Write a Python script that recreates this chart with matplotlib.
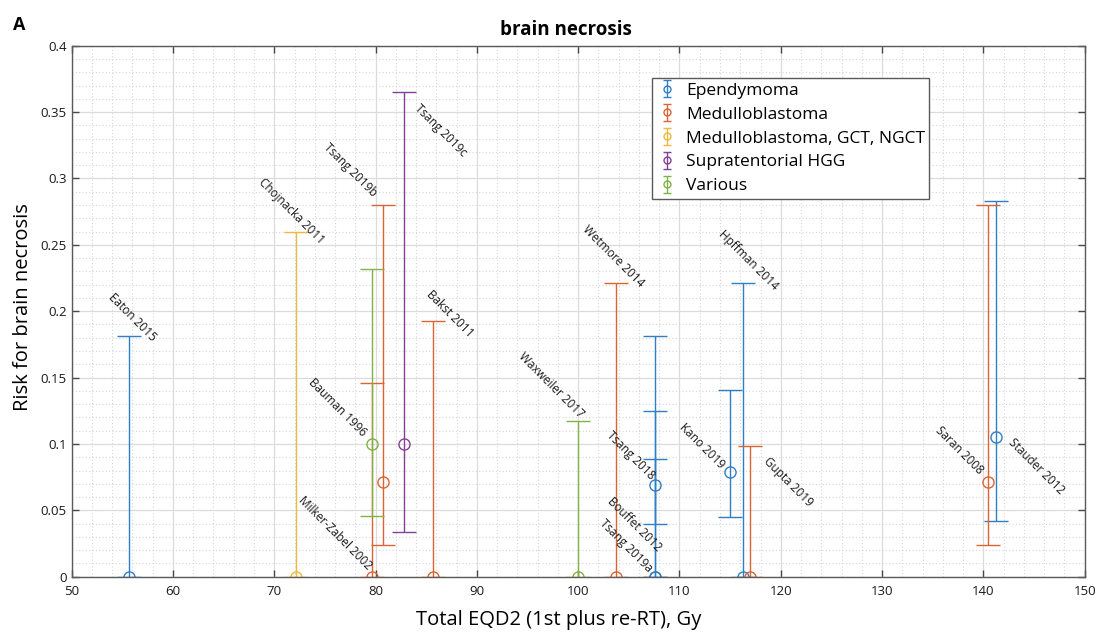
import numpy as np
import matplotlib
matplotlib.use('Agg')
import matplotlib.pyplot as plt
from matplotlib.ticker import MultipleLocator, FuncFormatter

plt.rcParams['font.family'] = ['Open Sans', 'DejaVu Sans']

# category order and colours (MATLAB default palette, as it looks on screen)
categories = ['Ependymoma', 'Medulloblastoma', 'Medulloblastoma, GCT, NGCT',
              'Supratentorial HGG', 'Various']
colors = ['#2f7fc6', '#dc6334', '#eeb93c', '#834095', '#80b245']

# one entry per study
studies = ['Eaton 2015', 'Tsang 2018', 'Bouffet 2012', 'Tsang 2019a', 'Kano 2019',
           'Hpffman 2014', 'Stauder 2012',
           'Milker-Zabel 2002', 'Tsang 2019b', 'Bakst 2011', 'Wetmore 2014',
           'Gupta 2019', 'Saran 2008',
           'Chojnacka 2011',
           'Tsang 2019c',
           'Bauman 1996', 'Waxweiler 2017']
group = [0, 0, 0, 0, 0, 0, 0,
         1, 1, 1, 1, 1, 1,
         2,
         3,
         4, 4]
eqd2 = [55.7, 107.6, 107.6, 107.6, 115.0, 116.3, 141.2,
        79.6, 80.7, 85.7, 103.7, 117.0, 140.5,
        72.1,
        82.8,
        79.6, 100.0]
risk = [0.0, 0.069, 0.0, 0.0, 0.0786, 0.0, 0.105,
        0.0, 0.0712, 0.0, 0.0, 0.0, 0.0712,
        0.0,
        0.1,
        0.1, 0.0]
ci_low = [0.0, 0.0395, 0.0, 0.0, 0.0447, 0.0, 0.042,
          0.0, 0.024, 0.0, 0.0, 0.0, 0.024,
          0.0,
          0.0335,
          0.0456, 0.0]
ci_high = [0.1815, 0.089, 0.125, 0.1815, 0.1409, 0.221, 0.2828,
           0.146, 0.2798, 0.1928, 0.221, 0.0985, 0.2798,
           0.2594,
           0.3649,
           0.2318, 0.1173]

# where each study label sits (text centre, data units)
label_x = [55.95, 105.2, 105.55, 104.7, 112.2, 116.85, 145.2,
           76.0, 77.5, 87.35, 103.5, 120.7, 137.65,
           71.7,
           86.45,
           76.2, 97.35]
label_y = [0.195, 0.091, 0.039, 0.023, 0.0985, 0.2386, 0.0834,
           0.0325, 0.3067, 0.198, 0.2416, 0.0713, 0.0954,
           0.2755,
           0.3365,
           0.1275, 0.1444]

eqd2 = np.array(eqd2)
risk = np.array(risk)
ci_low = np.array(ci_low)
ci_high = np.array(ci_high)
group = np.array(group)

fig = plt.figure(figsize=(11.18, 6.40), dpi=100)
ax = fig.add_axes([0.0641, 0.0989, 0.9061, 0.8297])

handles = []
for k, name in enumerate(categories):
    m = group == k
    ax.errorbar(eqd2[m], risk[m],
                yerr=[risk[m] - ci_low[m], ci_high[m] - risk[m]],
                fmt='o', mfc='none', mec=colors[k], ecolor=colors[k],
                ms=8, mew=1.0, elinewidth=1.0, capsize=8.5, capthick=1.0)
    # small stand-in for the legend (no data drawn)
    h = ax.errorbar([np.nan], [np.nan], yerr=[[0.0], [0.0]],
                    fmt='o', mfc='none', mec=colors[k], ecolor=colors[k],
                    ms=5, mew=1.0, elinewidth=1.0, capsize=3, capthick=1.0,
                    label=name)
    handles.append(h)

for s, lx, ly in zip(studies, label_x, label_y):
    ax.text(lx, ly, s, rotation=-45, ha='center', va='center', fontsize=8.5,
            color='#1a1a1a')

ax.set_xlim(50, 150)
ax.set_ylim(0, 0.4)
ax.xaxis.set_major_locator(MultipleLocator(10))
ax.xaxis.set_minor_locator(MultipleLocator(2))
ax.yaxis.set_major_locator(MultipleLocator(0.05))
ax.yaxis.set_minor_locator(MultipleLocator(0.01))
ax.yaxis.set_major_formatter(FuncFormatter(lambda v, p: f'{v:g}'))

ax.grid(which='major', color='#dcdcdc', lw=0.9, ls='-')
ax.grid(which='minor', color='#d6d6d6', lw=0.8, ls=(0, (1, 2)))
ax.set_axisbelow(True)
ax.tick_params(which='major', direction='in', length=5, width=1.0,
               top=True, right=True, labelsize=9.5, colors='#4a4a4a',
               labelcolor='#1a1a1a')
ax.tick_params(axis='x', which='major', pad=6)
ax.tick_params(which='minor', length=0, top=True, right=True)
for sp in ax.spines.values():
    sp.set_color('#5a5a5a')
    sp.set_linewidth(1.0)

ax.set_xlabel('Total EQD2 (1st plus re-RT), Gy', fontsize=14.5)
ax.xaxis.set_label_coords(0.481, -0.063)
ax.set_ylabel('Risk for brain necrosis', fontsize=14.5)
ax.yaxis.set_label_coords(-0.038, 0.508)
ax.text(0.488, 1.03, 'brain necrosis', transform=ax.transAxes, ha='center',
        va='center', fontsize=13.5, fontweight='bold')
fig.text(0.012, 0.953, 'A', fontsize=13, fontweight='bold')

leg = ax.legend(handles=handles, loc='upper left', bbox_to_anchor=(0.573, 0.939),
                fontsize=12.5, frameon=True, fancybox=False, edgecolor='#5a5a5a',
                framealpha=1, handlelength=1.2, borderpad=0.25,
                labelspacing=0.45, handletextpad=0.5, borderaxespad=0)
leg.get_frame().set_linewidth(1.0)

fig.savefig('out.png', dpi=100)
